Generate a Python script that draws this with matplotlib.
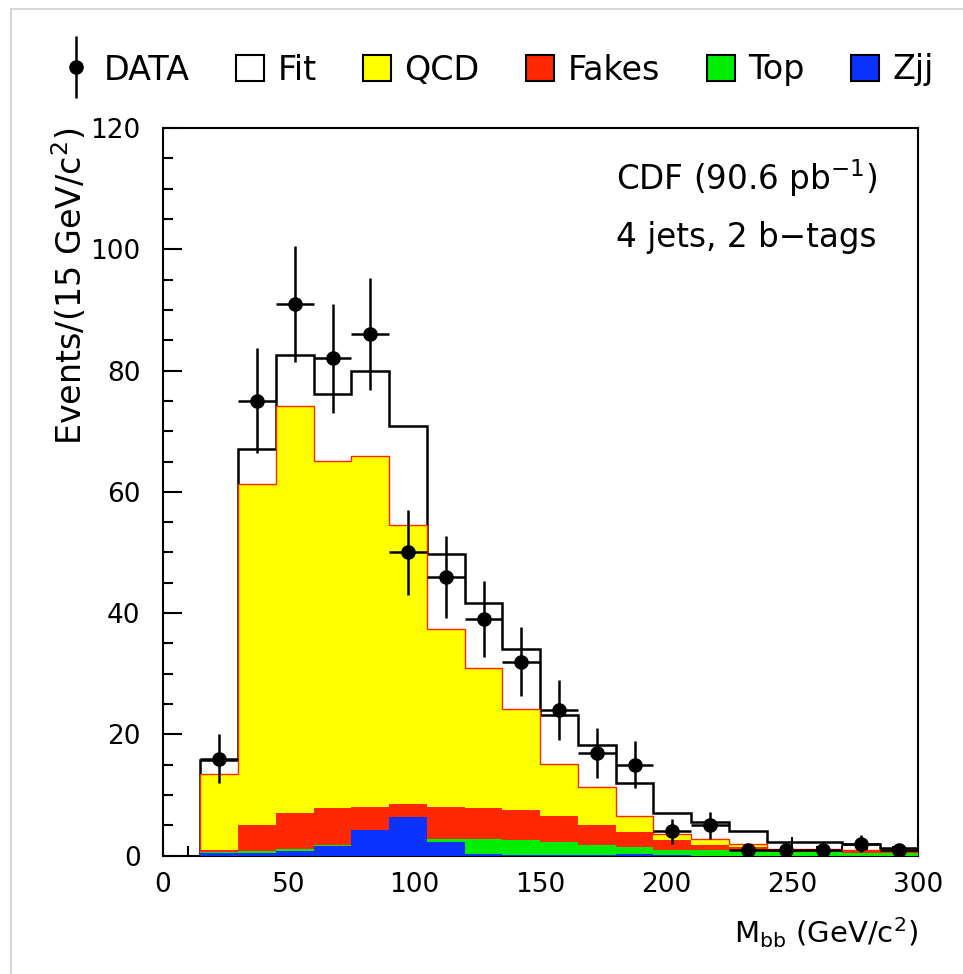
import numpy as np
import matplotlib
matplotlib.use('Agg')
import matplotlib.pyplot as plt
from matplotlib.patches import Patch
from matplotlib.lines import Line2D
from matplotlib.ticker import MultipleLocator

plt.rcParams['font.family'] = ['DejaVu Sans']
plt.rcParams['mathtext.default'] = 'regular'

# bin edges, 15 GeV wide from 15 to 300
edges = np.arange(15, 301, 15)
centers = 0.5 * (edges[:-1] + edges[1:])

# values, one per bin
data = [16, 75, 91, 82, 86, 50, 46, 39, 32, 24, 17, 15, 4, 5, 1, 1, 1, 2, 1]
fit = [15.7, 67.0, 82.5, 76.2, 80.0, 70.9, 49.7, 41.6, 34.1, 23.2, 18.2, 11.9,
       7.0, 5.5, 4.1, 2.3, 2.3, 2.0, 1.3]
qcd = [12.6, 56.3, 67.1, 57.3, 57.8, 46.0, 29.2, 23.2, 16.7, 8.6, 6.4, 2.7,
       1.1, 1.1, 0.4, 0.1, 0.1, 0.1, 0.2]
fakes = [0.3, 4.2, 6.0, 6.1, 3.8, 2.3, 5.3, 5.0, 4.9, 4.3, 3.3, 2.5,
         1.5, 0.8, 0.7, 0.4, 0.4, 0.4, 0.3]
top = [0.1, 0.3, 0.4, 0.1, 0.0, 0.0, 0.6, 2.5, 2.5, 2.1, 1.6, 1.1,
       0.9, 0.9, 0.8, 0.6, 0.6, 0.5, 0.4]
zjj = [0.5, 0.5, 0.7, 1.6, 4.3, 6.3, 2.2, 0.3, 0.1, 0.1, 0.1, 0.3,
       0.1, 0.0, 0.0, 0.0, 0.0, 0.0, 0.0]

labels = ['DATA', 'Fit', 'QCD', 'Fakes', 'Top', 'Zjj']
c_qcd, c_fakes, c_top, c_zjj = '#ffff00', '#ff2800', '#00ee00', '#0a32ff'

fig = plt.figure(figsize=(9.63, 9.74), dpi=100)
ax = fig.add_axes([0.169, 0.1215, 0.784, 0.7471])

# stack from bottom: zjj, top, fakes, qcd
s_zjj = np.array(zjj)
s_top = s_zjj + np.array(top)
s_fakes = s_top + np.array(fakes)
s_qcd = s_fakes + np.array(qcd)

ax.stairs(fit, edges, fill=True, facecolor='white', edgecolor='black', lw=1.8, zorder=1)
ax.stairs(s_qcd, edges, fill=True, facecolor=c_qcd, edgecolor=c_fakes, lw=1.0, zorder=2)
ax.stairs(s_fakes, edges, fill=True, facecolor=c_fakes, lw=0, zorder=3)
ax.stairs(s_top, edges, fill=True, facecolor=c_top, lw=0, zorder=4)
ax.stairs(s_zjj, edges, fill=True, facecolor=c_zjj, lw=0, zorder=5)

ax.errorbar(centers, data, yerr=np.sqrt(data), xerr=7.5, fmt='o', color='black',
            ms=9.5, elinewidth=1.8, capsize=0, zorder=6)

ax.set_xlim(0, 300)
ax.set_ylim(0, 120)
ax.xaxis.set_major_locator(MultipleLocator(50))
ax.xaxis.set_minor_locator(MultipleLocator(10))
ax.yaxis.set_major_locator(MultipleLocator(20))
ax.yaxis.set_minor_locator(MultipleLocator(5))
ax.tick_params(which='both', direction='in', top=False, right=False, width=1.5)
ax.tick_params(which='major', length=14, labelsize=19)
ax.tick_params(axis='x', which='major', pad=12)
ax.tick_params(axis='y', which='major', pad=16)
ax.tick_params(which='minor', length=7.5)
for sp in ax.spines.values():
    sp.set_linewidth(1.5)

ax.set_xlabel(r'M$_{bb}$ (GeV/c$^2$)', fontsize=21, loc='right')
ax.xaxis.set_label_coords(1.0, -0.106)
ax.xaxis.label.set_va('center')
ax.set_ylabel(r'Events/(15 GeV/c$^2$)', fontsize=24, loc='top')
ax.yaxis.set_label_coords(-0.123, 1.0)
ax.yaxis.label.set_va('center')

ax.text(0.600, 0.931, r'CDF (90.6 pb$^{-1}$)', transform=ax.transAxes,
        fontsize=23.5, ha='left', va='center')
ax.text(0.600, 0.850, '4 jets, 2 b\u2212tags', transform=ax.transAxes,
        fontsize=23.5, ha='left', va='center')

# legend row above the frame
data_h = (Line2D([], [], marker='|', ms=44, mew=1.8, color='black', ls='none'),
          Line2D([], [], marker='o', ms=9.5, color='black', ls='none'))
handles = [data_h,
           Patch(facecolor='white', edgecolor='black', lw=1.5),
           Patch(facecolor=c_qcd, edgecolor='black', lw=1.5),
           Patch(facecolor=c_fakes, edgecolor='black', lw=1.5),
           Patch(facecolor=c_top, edgecolor='black', lw=1.5),
           Patch(facecolor=c_zjj, edgecolor='black', lw=1.5)]
fig.legend(handles, labels, loc='center left', bbox_to_anchor=(62 / 963, 1 - 70 / 974),
           ncol=6, frameon=False, fontsize=24, handlelength=0.84, handleheight=0.84,
           handletextpad=0.4, columnspacing=1.4, borderpad=0, borderaxespad=0)

# faint page border of the original screenshot
fig.add_artist(Line2D([11 / 963, 11 / 963], [0, 1 - 9 / 974], color='#d0d0d0', lw=1.2))
fig.add_artist(Line2D([11 / 963, 1], [1 - 9 / 974, 1 - 9 / 974], color='#d0d0d0', lw=1.2))

fig.savefig('out.png', dpi=100)
